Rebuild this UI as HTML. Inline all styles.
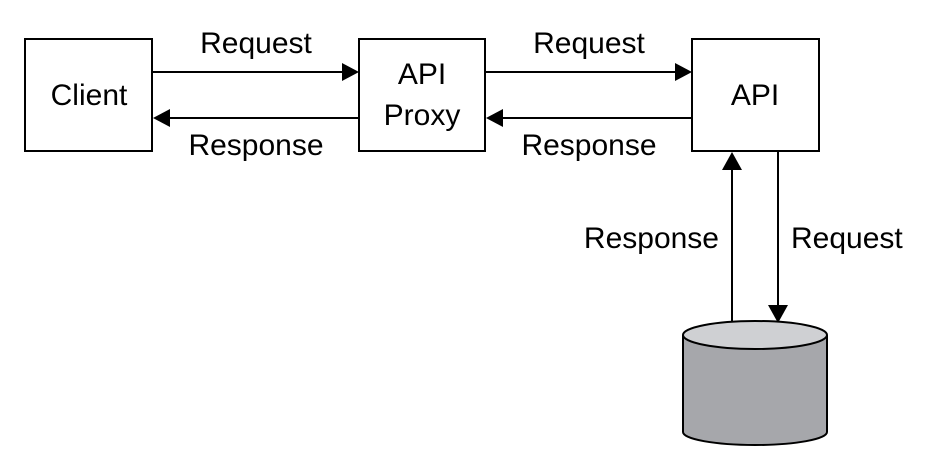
<!DOCTYPE html>
<html><head><style>body{margin:0;background:#fff}</style></head><body>
<svg width="933" height="470" xmlns="http://www.w3.org/2000/svg" font-family="Liberation Sans, sans-serif" font-size="30" fill="#000">
<g fill="#fff" stroke="#000" stroke-width="2">
<rect x="25" y="39" width="127" height="112"/>
<rect x="359" y="39" width="126" height="112"/>
<rect x="692" y="39" width="127" height="112"/>
</g>
<g stroke="#000" stroke-width="2">
<line x1="152" y1="72" x2="342" y2="72"/>
<line x1="170" y1="118" x2="359" y2="118"/>
<line x1="485" y1="72" x2="675" y2="72"/>
<line x1="503" y1="118" x2="692" y2="118"/>
<line x1="732" y1="170" x2="732" y2="323"/>
<line x1="778" y1="151" x2="778" y2="305"/>
</g>
<polygon points="342,63 359,72 342,81"/>
<polygon points="170,109 153,118 170,127"/>
<polygon points="675,63 692,72 675,81"/>
<polygon points="503,109 486,118 503,127"/>
<polygon points="722,170 732,152 742,170"/>
<polygon points="768,305 778,323 788,305"/>
<path d="M683,335 L683,432 A72,13 0 0 0 827,432 L827,335" fill="#a6a7ab" stroke="#000" stroke-width="2"/>
<ellipse cx="755" cy="335" rx="72" ry="14" fill="#cfd0d3" stroke="#000" stroke-width="2"/>
<text x="89" y="105" text-anchor="middle">Client</text>
<text x="422" y="84" text-anchor="middle">API</text>
<text x="422" y="125" text-anchor="middle">Proxy</text>
<text x="755" y="105" text-anchor="middle">API</text>
<text x="256" y="53" text-anchor="middle">Request</text>
<text x="256" y="155" text-anchor="middle">Response</text>
<text x="589" y="53" text-anchor="middle">Request</text>
<text x="589" y="155" text-anchor="middle">Response</text>
<text x="719" y="248" text-anchor="end">Response</text>
<text x="791" y="248">Request</text>
</svg>
</body></html>
